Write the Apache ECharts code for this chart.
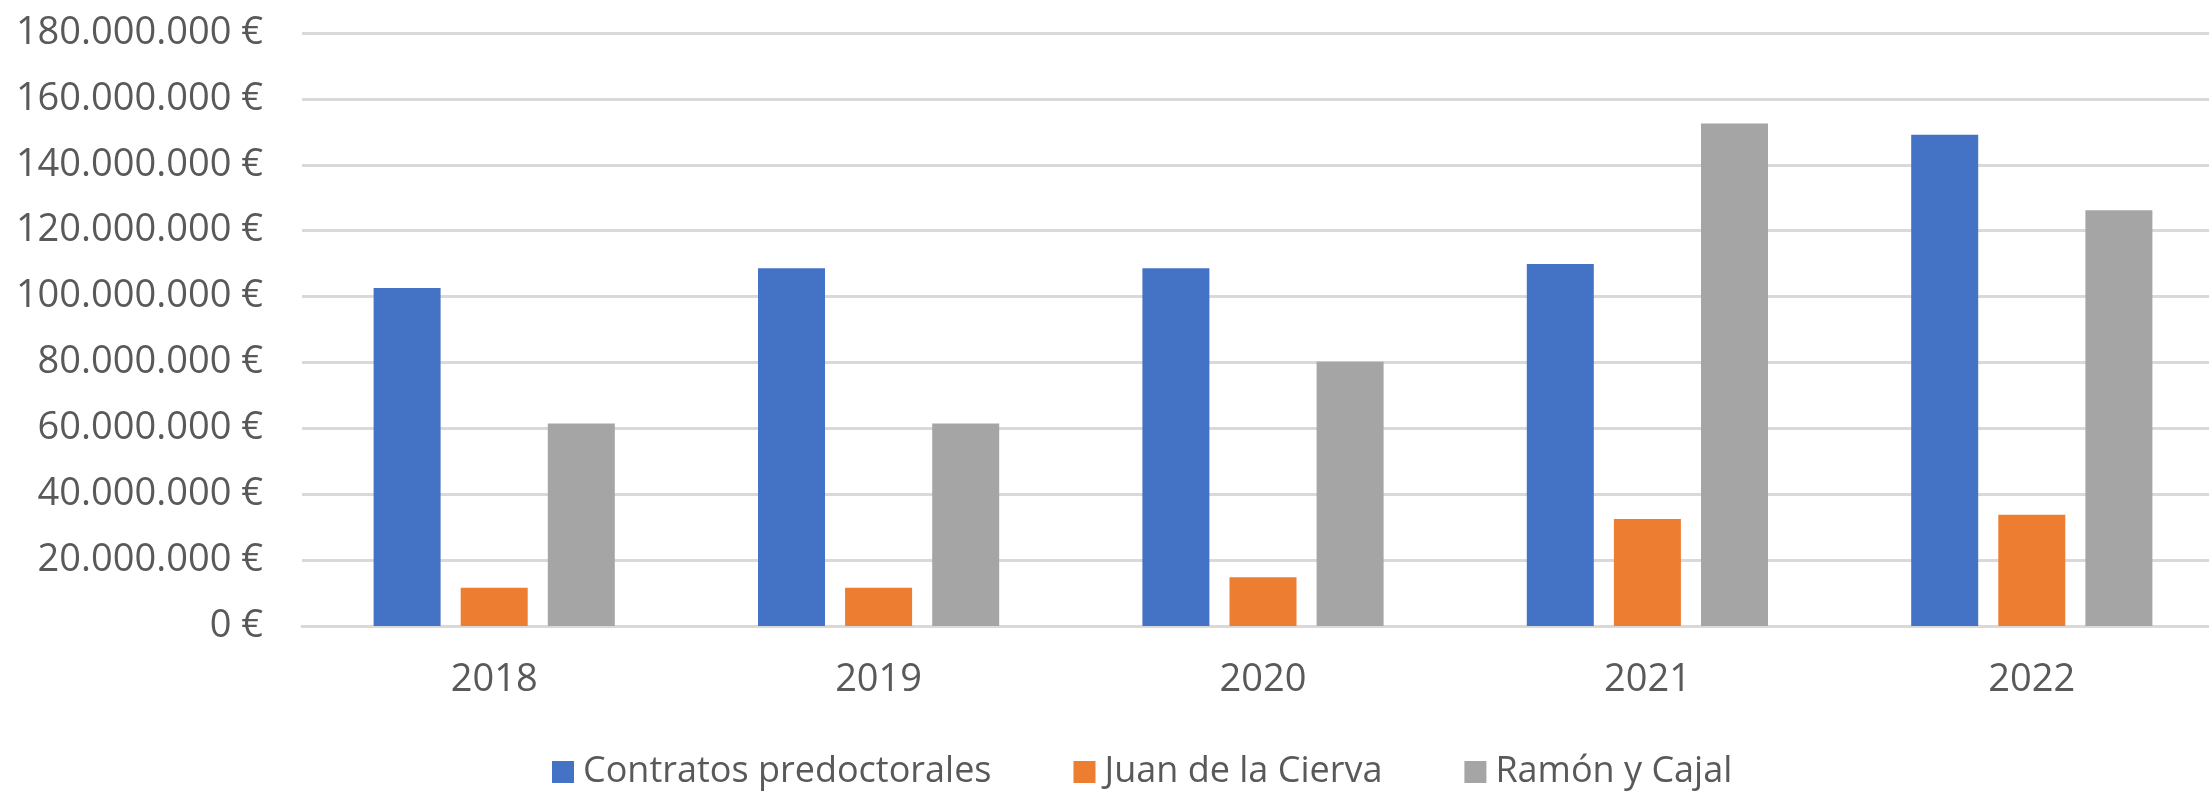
<!DOCTYPE html>
<html>
<head>
<meta charset="utf-8">
<script src="https://cdn.jsdelivr.net/npm/echarts@6/dist/echarts.min.js"></script>
<style>
  html, body { margin: 0; padding: 0; background: #fff; }
  #chart { width: 2209px; height: 791px; }
</style>
</head>
<body>
<div id="chart"></div>
<script>
const years = ['2018', '2019', '2020', '2021', '2022']
const predoctorales = [102600000, 108600000, 108600000, 109900000, 149100000]
const juanDeLaCierva = [11600000, 11600000, 14800000, 32500000, 33800000]
const ramonYCajal = [61500000, 61500000, 80200000, 152500000, 126200000]

const textColor = '#595959'
const gridColor = '#d9d9d9'
const fontFamily = '"Open Sans", sans-serif'

function euro(v) {
  return String(Math.round(v)).replace(/\B(?=(\d{3})+(?!\d))/g, '.') + ' €'
}

function barSeries(name, data, color) {
  return {
    name,
    type: 'bar',
    data,
    barWidth: 67,
    barGap: '30%',
    itemStyle: { color },
    animation: false,
  }
}

const chart = echarts.init(document.getElementById('chart'))
chart.setOption({
  backgroundColor: '#fff',
  textStyle: { fontFamily },
  // plot runs a little past the right edge, like the cropped original
  grid: { left: 302, width: 1922, top: 33, bottom: 165, outerBoundsMode: 'none' },
  legend: {
    top: 749,
    left: 547,
    itemWidth: 22,
    itemHeight: 22,
    itemGap: 82,
    icon: 'rect',
    textStyle: { color: textColor, fontSize: 36, fontFamily, padding: [0, 0, 0, 4] },
    data: ['Contratos predoctorales', 'Juan de la Cierva', 'Ramón y Cajal'],
  },
  xAxis: {
    type: 'category',
    data: years,
    axisLine: { lineStyle: { color: gridColor, width: 3 } },
    axisTick: { show: false },
    axisLabel: { color: textColor, fontSize: 38, margin: 35 },
  },
  yAxis: {
    type: 'value',
    min: 0,
    max: 180000000,
    interval: 20000000,
    axisLine: { show: false },
    axisTick: { show: false },
    splitLine: { lineStyle: { color: gridColor, width: 3 } },
    axisLabel: { color: textColor, fontSize: 38, margin: 39, formatter: euro },
  },
  series: [
    barSeries('Contratos predoctorales', predoctorales, '#4472c4'),
    barSeries('Juan de la Cierva', juanDeLaCierva, '#ed7d31'),
    barSeries('Ramón y Cajal', ramonYCajal, '#a5a5a5'),
  ],
})
</script>
</body>
</html>
